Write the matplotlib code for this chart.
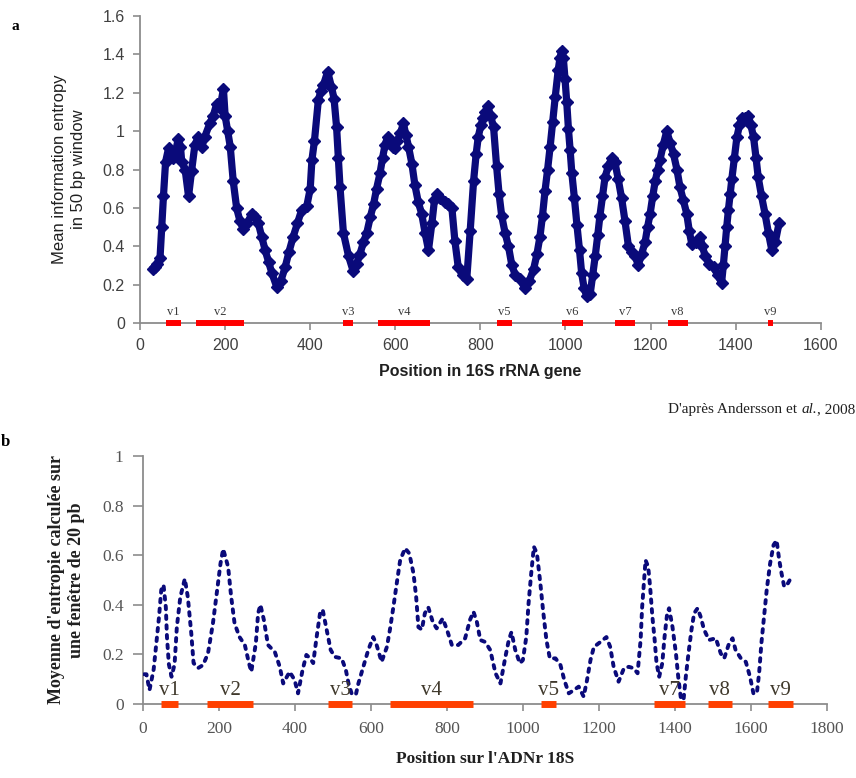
import matplotlib.pyplot as plt

# ---- panel a : 16S rRNA ----
pos_16s = [30, 34, 40, 47, 51, 55, 60, 67, 72, 78, 84, 90, 95, 98, 106, 114, 121, 129, 137, 145,
           152, 164, 172, 180, 188, 196, 200, 206, 212, 219, 227, 235, 243, 252, 263, 270, 278, 286,
           294, 302, 310, 321, 331, 341, 350, 360, 370, 380, 392, 400, 404, 410, 419, 425, 431, 441,
           450, 456, 462, 466, 470, 478, 490, 501, 509, 517, 525, 533, 541, 549, 556, 564, 570, 576,
           582, 588, 594, 599, 605, 612, 619, 625, 631, 639, 646, 654, 662, 670, 678, 686, 692, 697,
           705, 717, 725, 733, 740, 748, 758, 768, 776, 784, 790, 795, 801, 807, 812, 817, 824, 831,
           838, 844, 850, 858, 866, 874, 882, 893, 905, 915, 925, 933, 940, 946, 952, 958, 964, 970,
           976, 983, 987, 991, 995, 999, 1003, 1007, 1011, 1015, 1021, 1027, 1033, 1038, 1044, 1050,
           1058, 1064, 1070, 1076, 1081, 1087, 1093, 1101, 1109, 1116, 1124, 1132, 1140, 1148, 1156,
           1164, 1171, 1179, 1187, 1193, 1199, 1205, 1211, 1217, 1222, 1230, 1238, 1246, 1254, 1262,
           1269, 1277, 1285, 1291, 1297, 1306, 1316, 1322, 1328, 1338, 1348, 1358, 1367, 1371, 1375,
           1379, 1383, 1387, 1391, 1397, 1403, 1409, 1414, 1422, 1430, 1436, 1442, 1448, 1453, 1461,
           1469, 1477, 1485, 1493, 1502]
ent_16s = [0.28, 0.29, 0.31, 0.34, 0.50, 0.66, 0.84, 0.91, 0.88, 0.86, 0.90, 0.96, 0.92, 0.84, 0.80,
           0.66, 0.79, 0.93, 0.97, 0.92, 0.97, 1.04, 1.08, 1.14, 1.12, 1.22, 1.08, 1.00, 0.92, 0.74,
           0.60, 0.53, 0.49, 0.52, 0.57, 0.55, 0.52, 0.45, 0.38, 0.32, 0.26, 0.19, 0.22, 0.29, 0.37,
           0.45, 0.52, 0.59, 0.61, 0.70, 0.85, 0.95, 1.16, 1.21, 1.24, 1.31, 1.23, 1.17, 1.02, 0.86,
           0.71, 0.47, 0.35, 0.27, 0.31, 0.36, 0.42, 0.47, 0.55, 0.62, 0.70, 0.78, 0.86, 0.93, 0.97,
           0.95, 0.92, 0.91, 0.95, 0.99, 1.04, 0.98, 0.92, 0.83, 0.72, 0.63, 0.57, 0.47, 0.38, 0.52,
           0.64, 0.67, 0.65, 0.63, 0.62, 0.60, 0.43, 0.29, 0.25, 0.23, 0.48, 0.74, 0.88, 0.97, 1.03,
           1.07, 1.10, 1.13, 1.08, 1.02, 0.82, 0.67, 0.56, 0.47, 0.40, 0.30, 0.25, 0.23, 0.18, 0.22,
           0.28, 0.36, 0.45, 0.56, 0.69, 0.80, 0.92, 1.05, 1.18, 1.32, 1.38, 1.42, 1.38, 1.27, 1.15,
           1.01, 0.90, 0.78, 0.65, 0.51, 0.38, 0.26, 0.18, 0.14, 0.15, 0.25, 0.35, 0.46, 0.56, 0.66,
           0.76, 0.82, 0.86, 0.84, 0.75, 0.65, 0.53, 0.40, 0.37, 0.35, 0.30, 0.36, 0.42, 0.50, 0.57,
           0.66, 0.74, 0.80, 0.85, 0.93, 1.00, 0.94, 0.88, 0.80, 0.71, 0.64, 0.57, 0.48, 0.41, 0.42,
           0.45, 0.40, 0.35, 0.31, 0.29, 0.25, 0.21, 0.30, 0.40, 0.50, 0.59, 0.67, 0.75, 0.86, 0.97,
           1.03, 1.07, 1.07, 1.08, 1.03, 0.97, 0.86, 0.76, 0.66, 0.57, 0.47, 0.38, 0.42, 0.52]

# regions variables 16S (debut, fin)
var_16s_names = ['v1', 'v2', 'v3', 'v4', 'v5', 'v6', 'v7', 'v8', 'v9']
var_16s_start = [60, 131, 476, 560, 838, 993, 1117, 1240, 1475]
var_16s_end = [96, 245, 501, 682, 874, 1041, 1163, 1287, 1487]

# ---- panel b : 18S rDNA ----
pos_18s = [3, 9, 17, 28, 35, 42, 48, 54, 60, 63, 68, 75, 83, 89, 98, 110, 118, 127, 133, 145, 158,
           171, 184, 195, 204, 211, 224, 232, 241, 254, 268, 279, 285, 297, 303, 309, 318, 329, 347,
           360, 369, 386, 399, 408, 420, 430, 440, 448, 457, 466, 473, 482, 494, 505, 523, 534, 541,
           549, 560, 567, 580, 593, 606, 615, 628, 642, 650, 659, 668, 677, 690, 701, 712, 719, 725,
           734, 742, 751, 763, 773, 789, 800, 813, 830, 848, 861, 870, 879, 888, 901, 914, 928, 941,
           954, 963, 970, 980, 992, 1000, 1009, 1015, 1022, 1029, 1037, 1046, 1053, 1062, 1071, 1086,
           1099, 1109, 1121, 1134, 1147, 1160, 1169, 1178, 1187, 1204, 1220, 1230, 1239, 1252, 1266,
           1279, 1292, 1302, 1310, 1314, 1323, 1330, 1335, 1341, 1347, 1352, 1359, 1367, 1373, 1380,
           1385, 1394, 1403, 1409, 1416, 1423, 1429, 1436, 1444, 1451, 1460, 1468, 1477, 1490, 1508,
           1521, 1530, 1543, 1552, 1560, 1574, 1587, 1598, 1607, 1616, 1622, 1628, 1635, 1642, 1651,
           1660, 1668, 1675, 1681, 1688, 1698, 1710]
ent_18s = [0.12, 0.12, 0.056, 0.14, 0.245, 0.35, 0.46, 0.48, 0.39, 0.27, 0.16, 0.11, 0.16, 0.31,
           0.43, 0.505, 0.43, 0.285, 0.165, 0.145, 0.157, 0.204, 0.325, 0.46, 0.567, 0.625, 0.553,
           0.433, 0.325, 0.27, 0.238, 0.164, 0.13, 0.245, 0.366, 0.40, 0.34, 0.238, 0.21, 0.15, 0.083,
           0.13, 0.097, 0.043, 0.137, 0.198, 0.184, 0.165, 0.27, 0.366, 0.38, 0.31, 0.218, 0.19,
           0.184, 0.137, 0.083, 0.043, 0.036, 0.083, 0.15, 0.218, 0.27, 0.238, 0.17, 0.23, 0.30, 0.39,
           0.487, 0.58, 0.628, 0.607, 0.527, 0.433, 0.31, 0.30, 0.366, 0.39, 0.33, 0.305, 0.345,
           0.30, 0.238, 0.238, 0.265, 0.34, 0.372, 0.33, 0.258, 0.25, 0.218, 0.124, 0.083, 0.19,
           0.258, 0.29, 0.218, 0.164, 0.177, 0.27, 0.406, 0.527, 0.634, 0.607, 0.487, 0.38, 0.258,
           0.184, 0.184, 0.157, 0.097, 0.043, 0.056, 0.07, 0.03, 0.097, 0.177, 0.23, 0.25, 0.27,
           0.23, 0.15, 0.09, 0.144, 0.15, 0.144, 0.124, 0.258, 0.39, 0.58, 0.553, 0.473, 0.352,
           0.258, 0.164, 0.11, 0.164, 0.27, 0.366, 0.386, 0.31, 0.204, 0.11, 0.023, 0.016, 0.11,
           0.204, 0.30, 0.366, 0.386, 0.352, 0.30, 0.258, 0.265, 0.204, 0.184, 0.245, 0.265, 0.218,
           0.184, 0.17, 0.11, 0.043, 0.043, 0.124, 0.245, 0.352, 0.46, 0.567, 0.641, 0.66, 0.58,
           0.527, 0.473, 0.487, 0.52]

var_18s_names = ['v1', 'v2', 'v3', 'v4', 'v5', 'v7', 'v8', 'v9']
var_18s_start = [47, 169, 488, 649, 1048, 1344, 1487, 1645]
var_18s_end = [93, 289, 551, 868, 1087, 1427, 1550, 1712]

navy = '#0a0a7a'
spine_col = '#8c8c8c'

fig = plt.figure(figsize=(8.56, 7.78), dpi=100)

# ------------------ a ------------------
ax1 = fig.add_axes([0.1636, 0.5848, 0.7952, 0.3946])
ax1.plot(pos_16s, ent_16s, color=navy, lw=5.2, solid_joinstyle='round', solid_capstyle='round',
         zorder=3)
ax1.plot(pos_16s, ent_16s, ls='none', marker='D', ms=6, mec=navy, mfc=navy, zorder=3)
for s, e, n in zip(var_16s_start, var_16s_end, var_16s_names):
    ax1.plot([s, e], [0, 0], color='#ff0000', lw=4.3, solid_capstyle='butt', clip_on=False, zorder=4)
    ax1.text((s + e) / 2, 0.025, n, ha='center', va='bottom', fontsize=9,
             family='Liberation Serif', color='#3a3a3a')
ax1.set_xlim(0, 1600)
ax1.set_ylim(0, 1.6)
ax1.set_xticks(range(0, 1601, 200))
ax1.set_yticks([0, 0.2, 0.4, 0.6, 0.8, 1.0, 1.2, 1.4, 1.6])
ax1.set_yticklabels(['0', '0.2', '0.4', '0.6', '0.8', '1', '1.2', '1.4', '1.6'])
for sp in ['top', 'right']:
    ax1.spines[sp].set_visible(False)
for sp in ['left', 'bottom']:
    ax1.spines[sp].set_color(spine_col)
    ax1.spines[sp].set_linewidth(1.3)
ax1.tick_params(direction='out', length=5, width=1.2, color=spine_col, labelsize=11.5,
                labelcolor='#404040', pad=6)
for lab in ax1.get_xticklabels() + ax1.get_yticklabels():
    lab.set_family('Liberation Sans')
ax1.set_ylabel('Mean information entropy\nin 50 bp window', family='Liberation Sans',
               fontsize=12, color='#202020', linespacing=1.35, labelpad=12)
ax1.set_xlabel('Position in 16S rRNA gene', family='Liberation Sans', fontweight='bold',
               fontsize=11.5, color='#202020', labelpad=8)

fig.text(0.018, 0.966, 'a', family='Liberation Serif', fontweight='bold', fontsize=11,
         ha='center', va='center')

# source : "D'après Andersson et al., 2008" avec al. en italique
renderer = fig.canvas.get_renderer()
x_right = 0.999
for piece, style in [(', 2008', 'normal'), ('al.', 'italic'), ("D'après Andersson et ", 'normal')]:
    t = fig.text(x_right, 0.474, piece, family='Liberation Serif', style=style, fontsize=11,
                 ha='right', va='center', color='#202020')
    bb = t.get_window_extent(renderer=renderer)
    x_right = bb.x0 / fig.bbox.width

# ------------------ b ------------------
ax2 = fig.add_axes([0.1671, 0.0951, 0.7987, 0.3188])
ax2.plot(pos_18s, ent_18s, color=navy, lw=2.8, ls=(0, (0.9, 1.6)), dash_capstyle='round',
         zorder=3)
for s, e, n in zip(var_18s_start, var_18s_end, var_18s_names):
    ax2.plot([s, e], [0, 0], color='#ff4000', lw=5, solid_capstyle='butt', clip_on=False, zorder=4)
    ax2.text((s + e) / 2, 0.018, n, ha='center', va='bottom', fontsize=15,
             family='Liberation Serif', color='#40392c', zorder=5)
ax2.set_xlim(0, 1800)
ax2.set_ylim(0, 1)
ax2.set_xticks(range(0, 1801, 200))
ax2.set_yticks([0, 0.2, 0.4, 0.6, 0.8, 1.0])
ax2.set_yticklabels(['0', '0.2', '0.4', '0.6', '0.8', '1'])
for sp in ['top', 'right']:
    ax2.spines[sp].set_visible(False)
for sp in ['left', 'bottom']:
    ax2.spines[sp].set_color(spine_col)
    ax2.spines[sp].set_linewidth(1.3)
ax2.tick_params(axis='y', direction='out', length=7, width=1.2, color=spine_col)
ax2.tick_params(axis='x', direction='out', length=5, width=1.2, color=spine_col)
ax2.tick_params(labelsize=12.5, labelcolor='#555555', pad=7)
for lab in ax2.get_xticklabels() + ax2.get_yticklabels():
    lab.set_family('Liberation Serif')
ax2.set_ylabel("Moyenne d'entropie calculée sur\nune fenêtre de 20 pb", family='Liberation Serif',
               fontweight='bold', fontsize=13, color='#202020', linespacing=1.25, labelpad=12)
ax2.set_xlabel("Position sur l'ADNr 18S", family='Liberation Serif', fontweight='bold',
               fontsize=12.5, color='#202020', labelpad=10)

fig.text(0.006, 0.432, 'b', family='Liberation Serif', fontweight='bold', fontsize=12,
         ha='center', va='center')

fig.savefig('out.png', dpi=100)
